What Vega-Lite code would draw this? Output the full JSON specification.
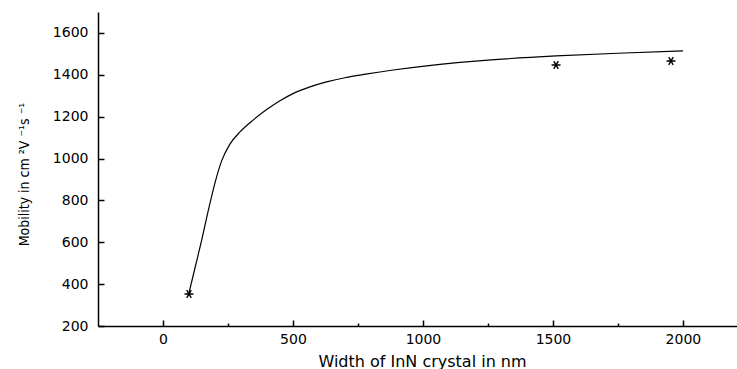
{
  "$schema": "https://vega.github.io/schema/vega-lite/v6.json",
  "width": 639,
  "height": 314,
  "autosize": {"type": "none"},
  "padding": {"left": 98, "top": 12, "right": 0, "bottom": 43},
  "background": "white",
  "config": {"view": {"stroke": null}},
  "datasets": {
    "curve": [
      {"width": 100, "mobility": 358},
      {"width": 123, "mobility": 477},
      {"width": 149, "mobility": 611},
      {"width": 173, "mobility": 745},
      {"width": 200, "mobility": 884},
      {"width": 226, "mobility": 990},
      {"width": 258, "mobility": 1070},
      {"width": 296, "mobility": 1127},
      {"width": 350, "mobility": 1187},
      {"width": 400, "mobility": 1235},
      {"width": 450, "mobility": 1276},
      {"width": 500, "mobility": 1310},
      {"width": 560, "mobility": 1340},
      {"width": 629, "mobility": 1366},
      {"width": 700, "mobility": 1386},
      {"width": 780, "mobility": 1403},
      {"width": 886, "mobility": 1423},
      {"width": 1014, "mobility": 1443},
      {"width": 1142, "mobility": 1459},
      {"width": 1250, "mobility": 1470},
      {"width": 1512, "mobility": 1490},
      {"width": 1750, "mobility": 1503},
      {"width": 2000, "mobility": 1514}
    ],
    "measured": [
      {"width": 100, "mobility": 353},
      {"width": 1512, "mobility": 1447},
      {"width": 1954, "mobility": 1466}
    ]
  },
  "layer": [
    {
      "data": {"name": "curve"},
      "mark": {"type": "line", "color": "black", "strokeWidth": 1.2, "interpolate": "monotone"},
      "encoding": {
        "x": {
          "field": "width", "type": "quantitative",
          "scale": {"domain": [-250, 2208], "nice": false, "zero": false},
          "axis": {
            "title": "Width of InN crystal in nm",
            "values": [0, 250, 500, 750, 1000, 1250, 1500, 1750, 2000],
            "format": "d",
            "labelExpr": "datum.value % 500 === 0 ? datum.label : ''",
            "grid": false,
            "domainColor": "black", "domainWidth": 1.5,
            "tickColor": "black", "tickWidth": 1.5,
            "tickSize": {"condition": {"test": "datum.value % 500 === 0", "value": -6}, "value": -3},
            "labelFont": "DejaVu Sans", "labelFontSize": 14, "labelColor": "black",
            "labelPadding": 12, "labelFlush": false, "labelOverlap": false,
            "titleFont": "DejaVu Sans", "titleFontSize": 16, "titleFontWeight": "normal", "titleColor": "black",
            "titleX": 324, "titleY": 40, "titleBaseline": "alphabetic", "titleAlign": "center"
          }
        },
        "y": {
          "field": "mobility", "type": "quantitative",
          "scale": {"domain": [200, 1700], "nice": false, "zero": false},
          "axis": {
            "title": "Mobility in cm ²V ⁻¹s ⁻¹",
            "values": [200, 300, 400, 500, 600, 700, 800, 900, 1000, 1100, 1200, 1300, 1400, 1500, 1600, 1700],
            "format": "d",
            "labelExpr": "datum.value % 200 === 0 && datum.value <= 1600 ? datum.label : ''",
            "grid": false,
            "domainColor": "black", "domainWidth": 1.5,
            "tickColor": "black", "tickWidth": 1.5,
            "tickSize": {"condition": {"test": "datum.value % 200 === 0", "value": -6}, "value": -3},
            "labelFont": "DejaVu Sans", "labelFontSize": 14, "labelColor": "black",
            "labelPadding": 16, "labelFlush": false, "labelOverlap": false,
            "titleFont": "Liberation Sans Narrow, DejaVu Sans Condensed, Liberation Sans",
            "titleFontSize": 14, "titleFontWeight": "normal", "titleColor": "black",
            "titleAngle": -90, "titleX": -74, "titleY": 162, "titleBaseline": "middle", "titleAlign": "center"
          }
        }
      }
    },
    {
      "data": {"name": "measured"},
      "mark": {
        "type": "point",
        "shape": "M-1,0L1,0M-0.5,-0.87L0.5,0.87M-0.5,0.87L0.5,-0.87",
        "stroke": "black", "strokeWidth": 1.4, "size": 80, "filled": false, "opacity": 1
      },
      "encoding": {
        "x": {"field": "width", "type": "quantitative"},
        "y": {"field": "mobility", "type": "quantitative"}
      }
    }
  ]
}
